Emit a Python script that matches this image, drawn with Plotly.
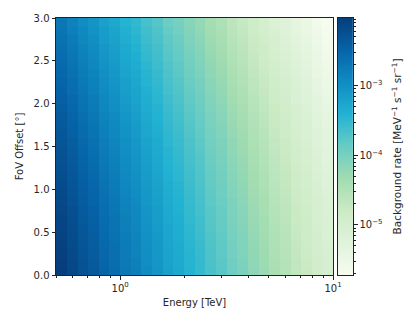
import numpy as np
import plotly.graph_objects as go

# Energy bin edges [TeV] (0.05 decade bins)
energy_edges = [0.500, 0.562, 0.631, 0.708, 0.794, 0.891, 1.000, 1.122, 1.259,
                1.413, 1.585, 1.778, 1.995, 2.239, 2.512, 2.818, 3.162, 3.548,
                3.981, 4.467, 5.012, 5.623, 6.310, 7.079, 7.943, 8.913, 10.00]

# FoV offset bin edges [deg]
offset_edges = [0.0, 0.1, 0.2, 0.3, 0.4, 0.5, 0.6, 0.7, 0.8, 0.9, 1.0,
                1.1, 1.2, 1.3, 1.4, 1.5, 1.6, 1.7, 1.8, 1.9, 2.0,
                2.1, 2.2, 2.3, 2.4, 2.5, 2.6, 2.7, 2.8, 2.9, 3.0]

# Background rate at the field-of-view centre, per energy bin [MeV^-1 s^-1 sr^-1]
rate_center = [9.5e-3, 7.3e-3, 5.5e-3, 4.4e-3, 3.2e-3, 2.6e-3, 1.9e-3, 1.55e-3,
               1.12e-3, 8.9e-4, 6.4e-4, 5.2e-4, 3.8e-4, 3.0e-4, 2.15e-4, 1.7e-4,
               1.2e-4, 9.5e-5, 6.8e-5, 5.3e-5, 3.8e-5, 3.0e-5, 2.15e-5, 1.68e-5,
               1.24e-5, 9.6e-6]

# Relative radial acceptance per offset bin
offset_scale = [0.986, 0.957, 0.928, 0.898, 0.867, 0.835, 0.804, 0.772, 0.740, 0.708,
                0.676, 0.644, 0.613, 0.582, 0.552, 0.522, 0.493, 0.465, 0.438, 0.411,
                0.385, 0.361, 0.337, 0.314, 0.292, 0.272, 0.252, 0.233, 0.215, 0.199]

x_tick_vals = [1, 10]
x_tick_text = ["10<sup>0</sup>", "10<sup>1</sup>"]
x_minor_vals = [0.5, 0.6, 0.7, 0.8, 0.9, 2, 3, 4, 5, 6, 7, 8, 9]

cbar_tick_vals = [1e-5, 1e-4, 1e-3]
cbar_tick_text = ["10<sup>\u22125</sup>", "10<sup>\u22124</sup>", "10<sup>\u22123</sup>"]
cbar_minor_vals = [m * 10.0 ** e for e in (-6, -5, -4, -3) for m in range(2, 10)]

# green-blue sequential scale
gnbu = [
    [0.000, "rgb(247,252,240)"],
    [0.125, "rgb(224,243,219)"],
    [0.250, "rgb(204,235,197)"],
    [0.375, "rgb(162,220,176)"],
    [0.500, "rgb(104,204,196)"],
    [0.625, "rgb(34,178,210)"],
    [0.750, "rgb(16,140,194)"],
    [0.875, "rgb(6,100,168)"],
    [1.000, "rgb(6,62,124)"],
]

rate = np.outer(offset_scale, rate_center)
log_rate = np.log10(rate)
zlo, zhi = float(log_rate.min()), float(log_rate.max())

font = dict(family="DejaVu Sans", size=10, color="#262626")

fig = go.Figure()
fig.add_trace(go.Heatmap(
    x=energy_edges, y=offset_edges, z=log_rate,
    colorscale=gnbu, zmin=zlo, zmax=zhi, showscale=False,
    xaxis="x", yaxis="y", hoverinfo="skip"))

# colour scale strip drawn on its own log axis
levels = np.linspace(zlo, zhi, 257)
strip = ((levels[:-1] + levels[1:]) / 2)[:, None]
fig.add_trace(go.Heatmap(
    x=[0, 1], y=10 ** levels, z=strip,
    colorscale=gnbu, zmin=zlo, zmax=zhi, showscale=False,
    xaxis="x2", yaxis="y2", hoverinfo="skip"))

axis_common = dict(showline=True, linecolor="#222", linewidth=1, mirror=True,
                   ticks="outside", ticklen=3.5, tickwidth=1, tickcolor="#222",
                   showgrid=False, zeroline=False, tickfont=font)

fig.update_layout(
    width=414, height=320,
    margin=dict(l=56, r=61, t=14, b=45),
    paper_bgcolor="white", plot_bgcolor="white",
    font=font,
    xaxis=dict(axis_common, type="log", range=[np.log10(0.5), 1],
               domain=[0, 0.933], anchor="y",
               tickmode="array", tickvals=x_tick_vals, ticktext=x_tick_text,
               minor=dict(tickmode="array", tickvals=x_minor_vals, ticks="outside",
                          ticklen=2, tickcolor="#222", showgrid=False),
               title=dict(text="Energy [TeV]", font=font, standoff=6)),
    yaxis=dict(axis_common, range=[0, 3], domain=[0, 1], anchor="x",
               tickmode="array", tickvals=[0, 0.5, 1, 1.5, 2, 2.5, 3],
               tickformat=".1f",
               title=dict(text="FoV Offset [\u00b0]", font=font, standoff=8)),
    xaxis2=dict(range=[0, 1], domain=[0.949, 1], anchor="y2",
                showline=True, linecolor="#222", linewidth=1, mirror=True,
                ticks="", showticklabels=False, showgrid=False, zeroline=False),
    yaxis2=dict(axis_common, type="log", range=[zlo, zhi], domain=[0, 1],
                anchor="x2", side="right",
                tickmode="array", tickvals=cbar_tick_vals, ticktext=cbar_tick_text,
                minor=dict(tickmode="array", tickvals=cbar_minor_vals, ticks="outside",
                           ticklen=2, tickcolor="#222", showgrid=False),
                title=dict(text="Background rate [MeV<sup>\u22121</sup> s<sup>\u22121</sup> sr<sup>\u22121</sup>]",
                           font=dict(font, size=10.5), standoff=11)),
)

fig.write_html("out.html")
